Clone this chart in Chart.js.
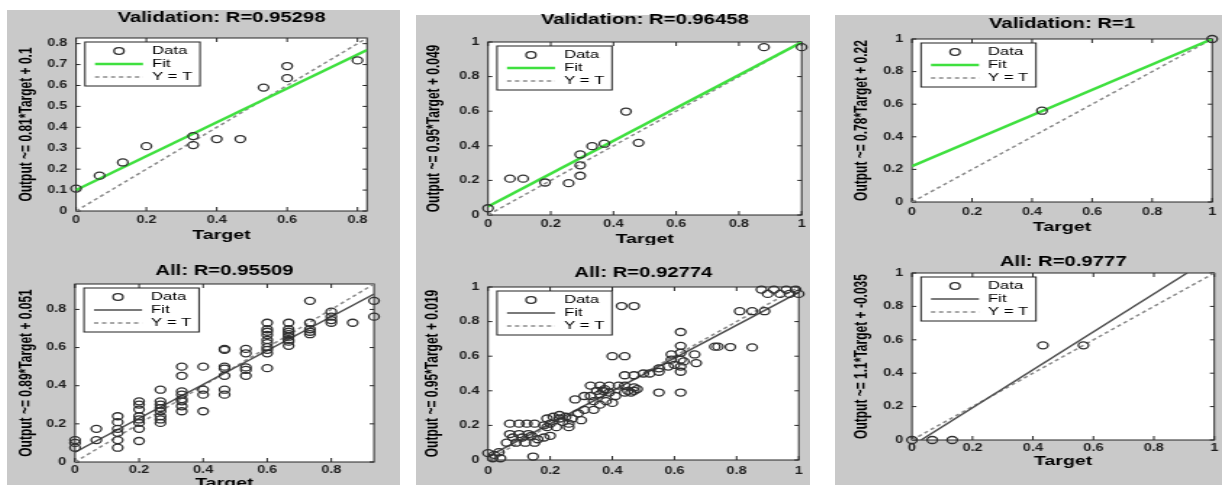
<!DOCTYPE html>
<html>
<head>
<meta charset="utf-8">
<script src="https://cdn.jsdelivr.net/npm/chart.js@4.4.0/dist/chart.umd.min.js"></script>
<style>
  html, body { margin: 0; padding: 0; background: #fff; width: 1222px; height: 485px; overflow: hidden; }
  body { position: relative; }
  .panel { position: absolute; background: #c9c9c9; }
  canvas { position: absolute; }
</style>
</head>
<body>
<div class="panel" style="left:7px;top:10px;width:393px;height:475px"></div>
<div class="panel" style="left:416px;top:15px;width:394px;height:470px"></div>
<div class="panel" style="left:835px;top:15px;width:387px;height:470px"></div>
<canvas id="valLeft"></canvas>
<canvas id="allLeft"></canvas>
<canvas id="valMid"></canvas>
<canvas id="allMid"></canvas>
<canvas id="valRight"></canvas>
<canvas id="allRight"></canvas>
<script>
// ---- data: [target, output] pairs ----
const valLeftPts = [[0,0.107],[0.067,0.169],[0.133,0.232],[0.2,0.31],[0.333,0.358],[0.333,0.315],
  [0.4,0.344],[0.467,0.344],[0.533,0.59],[0.6,0.693],[0.6,0.635],[0.8,0.72]];

const allLeftPts = [
  [0,0.115],[0,0.075],[0,0.1],
  [0.0667,0.174],[0.0667,0.115],
  [0.1333,0.24],[0.1333,0.209],[0.1333,0.174],[0.1333,0.153],[0.1333,0.115],[0.1333,0.075],
  [0.2,0.318],[0.2,0.301],[0.2,0.275],[0.2,0.24],[0.2,0.223],[0.2,0.205],[0.2,0.174],[0.2,0.11],
  [0.2667,0.379],[0.2667,0.318],[0.2667,0.301],[0.2667,0.283],[0.2667,0.266],[0.2667,0.24],[0.2667,0.223],[0.2667,0.205],
  [0.3333,0.5],[0.3333,0.452],[0.3333,0.37],[0.3333,0.353],[0.3333,0.33],[0.3333,0.318],[0.3333,0.292],[0.3333,0.266],
  [0.4,0.5],[0.4,0.379],[0.4,0.353],[0.4,0.266],
  [0.4667,0.593],[0.4667,0.588],[0.4667,0.5],[0.4667,0.49],[0.4667,0.452],[0.4667,0.379],[0.4667,0.353],
  [0.5333,0.593],[0.5333,0.57],[0.5333,0.496],[0.5333,0.483],[0.5333,0.452],
  [0.6,0.73],[0.6,0.696],[0.6,0.683],[0.6,0.666],[0.6,0.64],[0.6,0.623],[0.6,0.602],[0.6,0.588],[0.6,0.57],[0.6,0.492],
  [0.6667,0.73],[0.6667,0.696],[0.6667,0.683],[0.6667,0.67],[0.6667,0.657],[0.6667,0.64],[0.6667,0.631],[0.6667,0.609],
  [0.7333,0.845],[0.7333,0.73],[0.7333,0.696],[0.7333,0.683],[0.7333,0.67],
  [0.8,0.788],[0.8,0.762],[0.8,0.744],[0.8,0.73],
  [0.8667,0.73],
  [0.9333,0.845],[0.9333,0.762]
];

const valMidPts = [[0,0.039],[0.07,0.21],[0.112,0.21],[0.182,0.188],[0.257,0.184],[0.294,0.227],
  [0.294,0.287],[0.294,0.35],[0.332,0.398],[0.371,0.412],[0.44,0.598],[0.48,0.417],[0.88,0.97],[1,0.97]];

const allMidPts = [
  [0,0.04],[0.02,0.03],[0.035,0.045],[0.015,0.01],[0.04,0.01],
  [0.07,0.21],[0.1,0.21],[0.125,0.21],[0.15,0.21],
  [0.07,0.15],[0.1,0.15],[0.13,0.15],[0.14,0.14],
  [0.08,0.13],[0.11,0.13],[0.16,0.12],
  [0.06,0.1],[0.09,0.1],[0.12,0.1],[0.15,0.1],
  [0.18,0.13],[0.2,0.14],[0.145,0.02],
  [0.18,0.2],[0.19,0.24],[0.21,0.25],[0.23,0.24],[0.25,0.25],[0.19,0.19],[0.22,0.19],[0.26,0.19],
  [0.24,0.22],[0.2,0.21],[0.23,0.26],[0.26,0.21],[0.27,0.24],[0.3,0.23],[0.28,0.35],[0.31,0.37],
  [0.31,0.29],[0.34,0.29],[0.29,0.27],
  [0.33,0.43],[0.36,0.43],[0.39,0.43],[0.36,0.38],[0.34,0.34],[0.38,0.34],[0.41,0.37],[0.42,0.43],
  [0.35,0.4],[0.37,0.4],[0.375,0.41],[0.4,0.33],[0.36,0.32],[0.33,0.37],[0.44,0.39],[0.45,0.4],
  [0.47,0.4],[0.48,0.41],[0.46,0.39],[0.44,0.43],[0.47,0.42],[0.39,0.39],
  [0.4,0.6],[0.44,0.6],[0.43,0.89],[0.47,0.89],
  [0.44,0.49],[0.47,0.49],[0.5,0.5],[0.52,0.5],
  [0.55,0.53],[0.55,0.51],[0.58,0.54],[0.59,0.58],[0.59,0.61],[0.62,0.62],[0.62,0.58],[0.62,0.54],
  [0.62,0.51],[0.665,0.61],[0.67,0.56],[0.63,0.57],[0.6,0.55],
  [0.62,0.74],[0.62,0.66],[0.55,0.39],[0.62,0.39],
  [0.73,0.655],[0.74,0.655],[0.78,0.653],[0.85,0.651],
  [0.81,0.86],[0.85,0.86],[0.89,0.86],
  [0.88,0.985],[0.92,0.985],[0.96,0.985],[0.99,0.985],
  [0.9,0.96],[0.94,0.96],[0.97,0.96],[1,0.96]
];

const valRightPts = [[0.433,0.56],[1,1]];
const allRightPts = [[0,0],[0.067,0],[0.133,0],[0.433,0.567],[0.567,0.567]];

// fit lines and Y = T lines (end points)
const valLeftFit = [[0,0.1],[0.827,0.77]];
const allLeftFit = [[0,0.051],[0.9333,0.881]];
const valMidFit = [[0,0.049],[1,0.999]];
const allMidFit = [[0,0.019],[1,0.969]];
const valRightFit = [[0,0.22],[1,1]];
const allRightFit = [[0.03,0],[0.91,1]];

const valLeftIdent = [[0,0],[0.827,0.827]];
const allLeftIdent = [[0,0],[0.9333,0.9333]];
const unitIdent = [[0,0],[1,1]];

// tick values
const ticksLeftValX = [0,0.2,0.4,0.6,0.8];
const ticksLeftValY = [0,0.1,0.2,0.3,0.4,0.5,0.6,0.7,0.8];
const ticksLeftAll = [0,0.2,0.4,0.6,0.8];
const ticksUnit = [0,0.2,0.4,0.6,0.8,1];

// ---- drawing ----
const S = 1.45;            // the source picture is stretched sideways
const GREEN = '#3fe03f';
const FITGRAY = '#4e4e4e';
const DASH = '#8a8a8a';
const MARK = '#303030';
const FONT = "'Liberation Sans', Arial, sans-serif";
Chart.defaults.font.family = FONT;

function xy(arr) { return arr.map(p => ({x: p[0], y: p[1]})); }

const frame = {
  id: 'frame',
  beforeDraw(chart) {
    const {ctx, chartArea: a} = chart;
    ctx.save();
    ctx.fillStyle = '#fff';
    ctx.fillRect(a.left, a.top, a.width, a.height);
    ctx.restore();
  },
  beforeDatasetsDraw(chart) {
    const {ctx, chartArea: a, scales} = chart;
    ctx.save();
    ctx.strokeStyle = '#262626';
    ctx.lineWidth = 1;
    ctx.strokeRect(a.left, a.top, a.width, a.height);
    ctx.beginPath();
    scales.x.ticks.forEach(t => {
      const px = scales.x.getPixelForValue(t.value);
      ctx.moveTo(px, a.bottom); ctx.lineTo(px, a.bottom - 4);
      ctx.moveTo(px, a.top); ctx.lineTo(px, a.top + 4);
    });
    scales.y.ticks.forEach(t => {
      const py = scales.y.getPixelForValue(t.value);
      ctx.moveTo(a.left, py); ctx.lineTo(a.left + 3, py);
      ctx.moveTo(a.right, py); ctx.lineTo(a.right - 3, py);
    });
    ctx.stroke();
    ctx.restore();
  },
  afterDraw(chart, args, opts) {
    const {ctx, chartArea: a} = chart;
    const s = opts.s;
    const ds = chart.data.datasets;
    const lx = a.left + 9 / s, ly = a.top + 4, lw = 115 / s, lh = 44;
    const rows = [9, 22, 35];
    const x0 = lx + 10 / s, x1 = lx + 58 / s, tx = lx + 67 / s;
    ctx.save();
    ctx.fillStyle = '#fff';
    ctx.fillRect(lx, ly, lw, lh);
    ctx.strokeStyle = '#222';
    ctx.lineWidth = 1;
    ctx.strokeRect(lx, ly, lw, lh);
    // data marker
    ctx.beginPath();
    ctx.arc((x0 + x1) / 2, ly + rows[0], 3.4, 0, Math.PI * 2);
    ctx.strokeStyle = ds[0].borderColor;
    ctx.lineWidth = 1.3;
    ctx.stroke();
    // fit
    ctx.beginPath();
    ctx.moveTo(x0, ly + rows[1]); ctx.lineTo(x1, ly + rows[1]);
    ctx.strokeStyle = ds[1].borderColor;
    ctx.lineWidth = ds[1].borderWidth;
    ctx.stroke();
    // Y = T
    ctx.beginPath();
    ctx.setLineDash(ds[2].borderDash);
    ctx.moveTo(x0, ly + rows[2]); ctx.lineTo(x1, ly + rows[2]);
    ctx.strokeStyle = ds[2].borderColor;
    ctx.lineWidth = ds[2].borderWidth;
    ctx.stroke();
    ctx.setLineDash([]);
    ctx.fillStyle = '#000';
    ctx.font = '11.5px ' + FONT;
    ctx.textAlign = 'left';
    ctx.textBaseline = 'middle';
    ds.forEach((d, i) => ctx.fillText(d.label, tx, ly + rows[i]));
    ctx.restore();
  }
};

function makePlot(id, box, spec) {
  const cv = document.getElementById(id);
  const iw = Math.round(box.w / S);
  const s = box.w / iw;
  cv.width = iw;
  cv.height = box.h;
  cv.style.left = box.x + 'px';
  cv.style.top = box.y + 'px';
  cv.style.width = box.w + 'px';
  cv.style.height = box.h + 'px';

  const left = (spec.area[0] - box.x) / s;
  const right = (spec.area[1] - box.x) / s;
  const top = spec.area[2] - box.y;
  const bottom = spec.area[3] - box.y;
  const tTop = spec.titleY - box.y - 8.4;
  const tBottom = top - tTop - 16.8;

  const tickFont = {size: 10, weight: 'bold', lineHeight: 1.2};

  return new Chart(cv, {
    type: 'scatter',
    data: {
      datasets: [
        {label: 'Data', data: xy(spec.points), pointStyle: 'circle', pointRadius: 3.5, pointBorderWidth: 1.3,
         borderColor: MARK, backgroundColor: 'rgba(0,0,0,0)', clip: false},
        {label: 'Fit', data: xy(spec.fit), showLine: true, pointRadius: 0,
         borderColor: spec.fitColor, borderWidth: spec.fitWidth},
        {label: 'Y = T', data: xy(spec.ident), showLine: true, pointRadius: 0,
         borderColor: DASH, borderWidth: 1.5, borderDash: [3, 2.5]}
      ]
    },
    options: {
      responsive: false,
      animation: false,
      devicePixelRatio: 1,
      events: [],
      layout: {padding: {left: 0, top: 0, bottom: 0, right: iw - right}},
      plugins: {
        legend: {display: false},
        tooltip: {enabled: false},
        title: {display: true, text: spec.title, fullSize: false, color: '#000',
                font: {size: 14, weight: 'bold', lineHeight: 1.2},
                padding: {top: tTop, bottom: tBottom}},
        frame: {s: s}
      },
      scales: {
        x: {
          type: 'linear', min: 0, max: spec.lim,
          afterBuildTicks: sc => { sc.ticks = spec.xTicks.map(v => ({value: v})); },
          afterFit: sc => { sc.height = box.h - bottom; },
          grid: {display: false, drawTicks: false},
          border: {display: false},
          ticks: {autoSkip: false, maxRotation: 0, padding: spec.xTickY - spec.area[3] - 6,
                  color: '#1e1e1e', font: tickFont, callback: v => String(v)},
          title: {display: true, text: 'Target', color: '#000',
                  font: {size: 13.5, weight: 'bold', lineHeight: 1.2},
                  padding: {top: 0, bottom: box.h - (spec.xLabelY - box.y) - 8.1}}
        },
        y: {
          type: 'linear', min: 0, max: spec.lim,
          afterBuildTicks: sc => { sc.ticks = spec.yTicks.map(v => ({value: v})); },
          afterFit: sc => { sc.width = left; },
          grid: {display: false, drawTicks: false},
          border: {display: false},
          ticks: {autoSkip: false, padding: 6, color: '#1e1e1e', font: tickFont, callback: v => String(v)},
          title: {display: true, text: spec.ylabel, color: '#000',
                  font: {size: 12, weight: 'bold', lineHeight: 1.2},
                  padding: {top: (spec.yLabelX - box.x) / s - 7.2, bottom: 0}}
        }
      }
    },
    plugins: [frame]
  });
}

makePlot('valLeft', {x: 7, y: 0, w: 393, h: 245}, {
  title: 'Validation: R=0.95298', ylabel: 'Output ~= 0.81*Target + 0.1',
  points: valLeftPts, fit: valLeftFit, ident: valLeftIdent, fitColor: GREEN, fitWidth: 2.5,
  lim: 0.827, xTicks: ticksLeftValX, yTicks: ticksLeftValY,
  area: [76, 367, 38, 211], titleY: 18.5, xLabelY: 235, yLabelX: 27, xTickY: 220.7
});

makePlot('allLeft', {x: 7, y: 245, w: 393, h: 260}, {
  title: 'All: R=0.95509', ylabel: 'Output ~= 0.89*Target + 0.051',
  points: allLeftPts, fit: allLeftFit, ident: allLeftIdent, fitColor: FITGRAY, fitWidth: 1.5,
  lim: 0.9333, xTicks: ticksLeftAll, yTicks: ticksLeftAll,
  area: [75, 374, 284, 462], titleY: 270.7, xLabelY: 483, yLabelX: 27, xTickY: 470
});

makePlot('valMid', {x: 416, y: 0, w: 394, h: 245}, {
  title: 'Validation: R=0.96458', ylabel: 'Output ~= 0.95*Target + 0.049',
  points: valMidPts, fit: valMidFit, ident: unitIdent, fitColor: GREEN, fitWidth: 2.5,
  lim: 1, xTicks: ticksUnit, yTicks: ticksUnit,
  area: [488, 804, 42, 215], titleY: 20, xLabelY: 239, yLabelX: 435, xTickY: 224
});

makePlot('allMid', {x: 416, y: 245, w: 394, h: 260}, {
  title: 'All: R=0.92774', ylabel: 'Output ~= 0.95*Target + 0.019',
  points: allMidPts, fit: allMidFit, ident: unitIdent, fitColor: FITGRAY, fitWidth: 1.5,
  lim: 1, xTicks: ticksUnit, yTicks: ticksUnit,
  area: [488, 803, 287, 460], titleY: 273, xLabelY: 490, yLabelX: 433, xTickY: 471
});

makePlot('valRight', {x: 835, y: 0, w: 387, h: 245}, {
  title: 'Validation: R=1', ylabel: 'Output ~= 0.78*Target + 0.22',
  points: valRightPts, fit: valRightFit, ident: unitIdent, fitColor: GREEN, fitWidth: 2.5,
  lim: 1, xTicks: ticksUnit, yTicks: ticksUnit,
  area: [912, 1215, 39, 202], titleY: 24, xLabelY: 227, yLabelX: 862, xTickY: 212
});

makePlot('allRight', {x: 835, y: 245, w: 387, h: 260}, {
  title: 'All: R=0.9777', ylabel: 'Output ~= 1.1*Target + -0.035',
  points: allRightPts, fit: allRightFit, ident: unitIdent, fitColor: FITGRAY, fitWidth: 1.5,
  lim: 1, xTicks: ticksUnit, yTicks: ticksUnit,
  area: [912, 1217, 273, 440], titleY: 262, xLabelY: 461, yLabelX: 862, xTickY: 448
});
</script>
</body>
</html>
